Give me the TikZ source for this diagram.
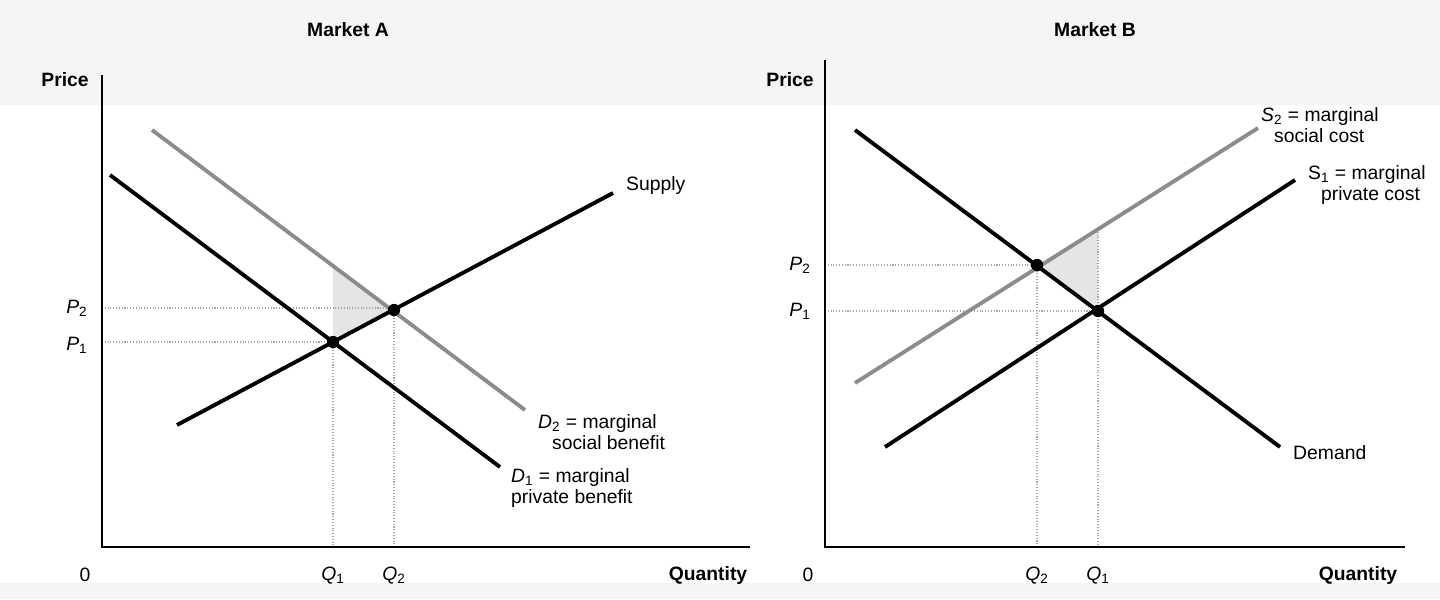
\documentclass[tikz,border=0pt]{standalone}
\usepackage{fontspec}
\setmainfont{Liberation Sans}
\newcommand{\vv}[2]{\textit{#1}\textsubscript{#2}}
\begin{document}
\begin{tikzpicture}[x=0.02cm,y=-0.02cm,
  curve/.style={line width=2.2pt},
  gcurve/.style={line width=2.2pt,color=black!45},
  guide/.style={densely dotted,color=black!35,line width=0.6pt},
  axis/.style={line width=1pt},
  dot/.style={circle,fill=black,inner sep=0pt,minimum size=7pt},
  lbl/.style={font=\fontsize{11}{12}\selectfont,align=left},
  ttl/.style={font=\fontsize{11}{12}\selectfont\bfseries}]
\useasboundingbox (0,0) rectangle (1440,599);
\fill[black!4] (0,0) rectangle (1440,105);
\fill[black!4] (0,583) rectangle (1440,599);
% ---------- Market A
\node[ttl] (tA) at (348,30) {Market A};
\fill[black!10] (333,266) -- (394,310) -- (333,342) -- cycle;
\draw[guide] (102,308) -- (394,308);
\draw[guide] (102,342) -- (333,342);
\draw[guide] (333,342) -- (333,547);
\draw[guide] (394,310) -- (394,547);
\draw[axis] (102,75) -- (102,547) -- (750,547);
\draw[gcurve] (152,130) -- (525,410);
\draw[curve] (177,425) -- (613,193);
\draw[curve] (110,175) -- (500,467);
\node[dot] (eA1) at (333,342) {};
\node[dot] (eA2) at (394,310) {};
\node[ttl] (pA) at (65,80) {Price};
\node[lbl] (zA) at (85,575) {0};
\node[ttl] (qA) at (708,575) {Quantity};
\node[lbl] (q1A) at (333,576) {\vv{Q}{1}};
\node[lbl] (q2A) at (394,576) {\vv{Q}{2}};
\node[lbl] (p2A) at (77,308) {\vv{P}{2}};
\node[lbl] (p1A) at (77,345) {\vv{P}{1}};
\node[lbl,anchor=west] (sA) at (620,185) {Supply};
\node[lbl,anchor=west] (d2A) at (532,432) {\vv{D}{2} = marginal\\\phantom{D}social benefit};
\node[lbl,anchor=west] (d1A) at (505,488) {\vv{D}{1} = marginal\\private benefit};
% ---------- Market B
\node[ttl] (tB) at (1095,30) {Market B};
\fill[black!10] (1037,265) -- (1098,229) -- (1098,311) -- cycle;
\draw[guide] (825,265) -- (1037,265);
\draw[guide] (825,311) -- (1098,311);
\draw[guide] (1037,265) -- (1037,547);
\draw[guide] (1098,229) -- (1098,547);
\draw[axis] (825,60) -- (825,547) -- (1405,547);
\draw[gcurve] (855,383) -- (1258,128);
\draw[curve] (885,447) -- (1295,180);
\draw[curve] (855,130) -- (1280,447);
\node[dot] (eB1) at (1037,265) {};
\node[dot] (eB2) at (1098,311) {};
\node[ttl] (pB) at (790,80) {Price};
\node[lbl] (zB) at (808,575) {0};
\node[ttl] (qB) at (1358,575) {Quantity};
\node[lbl] (q2B) at (1037,576) {\vv{Q}{2}};
\node[lbl] (q1B) at (1098,576) {\vv{Q}{1}};
\node[lbl] (p2B) at (800,265) {\vv{P}{2}};
\node[lbl] (p1B) at (800,311) {\vv{P}{1}};
\node[lbl,anchor=west] (s2B) at (1255,125) {\vv{S}{2} = marginal\\\phantom{S}social cost};
\node[lbl,anchor=west] (s1B) at (1302,185) {S\textsubscript{1} = marginal\\\phantom{S}private cost};
\node[lbl,anchor=west] (dB) at (1287,453) {Demand};
\end{tikzpicture}
\end{document}
